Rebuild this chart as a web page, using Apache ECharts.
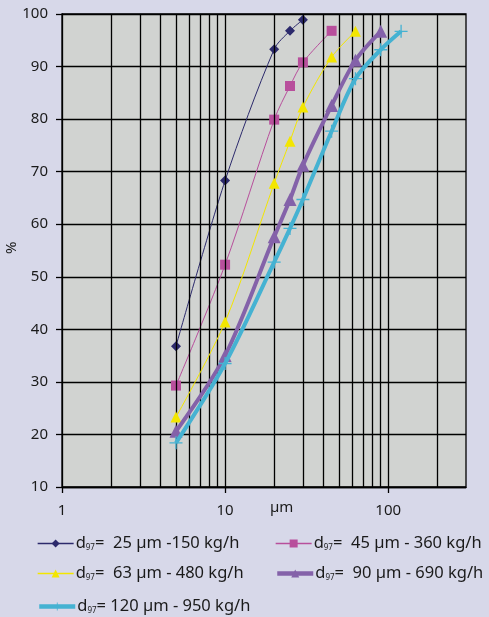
<!DOCTYPE html>
<html>
<head>
<meta charset="utf-8">
<script src="https://cdn.jsdelivr.net/npm/echarts@6/dist/echarts.min.js"></script>
<style>
  html, body { margin: 0; padding: 0; background: #d7d8e9; }
  #chart { width: 489px; height: 617px; }
</style>
</head>
<body>
<div id="chart"></div>
<script>
// particle sizes (µm) shared by all curves
const sizes = [5, 10, 20, 25, 30, 45, 63, 90, 120]
// cumulative % passing per classifier setting
const d25 = [36.8, 68.3, 93.3, 96.8, 98.9]
const d45 = [29.3, 52.3, 79.9, 86.3, 90.8, 96.8]
const d63 = [23.3, 41.4, 67.8, 75.8, 82.3, 91.8, 96.7]
const d90 = [20.6, 35.0, 57.6, 64.7, 71.2, 82.6, 91.2, 96.7]
const d120 = [18.4, 33.5, 52.8, 59.2, 64.7, 77.7, 87.7, 93.2, 96.7]
const legendText = [
  '=  25 µm -150 kg/h',
  '=  45 µm - 360 kg/h',
  '=  63 µm - 480 kg/h',
  '=  90 µm - 690 kg/h',
  '= 120 µm - 950 kg/h'
]
// vertical grid lines of the log paper
const logGrid = [2, 3, 4, 5, 6, 7, 8, 9, 10, 20, 30, 40, 50, 60, 70, 80, 90, 100, 200]

const font = 'Noto Sans'
const plusPath = 'path://M9,0h2v9h9v2h-9v9h-2v-9h-9v-2h9z'
const widths = [1, 1, 1, 4, 4]

function pts(ys) {
  return ys.map((y, i) => [sizes[i], y])
}

function makeSeries(idx, ys, color, symbol, size) {
  return {
    name: legendText[idx],
    type: 'line',
    data: pts(ys),
    smooth: 0.3,
    symbol: symbol,
    symbolSize: size,
    showSymbol: true,
    lineStyle: { color: color, width: widths[idx] },
    itemStyle: { color: color },
    z: 3 + idx
  }
}

const series = [
  makeSeries(0, d25, '#2c2a6c', 'diamond', 10),
  makeSeries(1, d45, '#b84f9c', 'rect', 10),
  makeSeries(2, d63, '#f3e600', 'triangle', 11),
  makeSeries(3, d90, '#8462a9', 'triangle', 13),
  makeSeries(4, d120, '#45b2d2', plusPath, 13)
]

series.push({
  type: 'line',
  data: [],
  silent: true,
  markLine: {
    silent: true,
    symbol: 'none',
    label: { show: false },
    lineStyle: { color: '#000', width: 1.3, type: 'solid' },
    data: logGrid.map(v => ({ xAxis: v }))
  },
  z: 1
})

const rich = {
  d: { fontFamily: font, fontSize: 16.5, color: '#1a1a1a' },
  s: { fontFamily: font, fontSize: 8, color: '#1a1a1a', padding: [8, 0, 0, 0] },
  t: { fontFamily: font, fontSize: 16.5, color: '#1a1a1a' }
}

function legend(idx, left, top) {
  return {
    data: [legendText[idx]],
    left: left,
    top: top,
    itemWidth: 36,
    itemHeight: 10,
    itemGap: 2,
    padding: 0,
    lineStyle: { width: widths[idx] === 1 ? 1.3 : 4.5 },
    formatter: name => '{d|d}{s|97}{t|' + name + '}',
    textStyle: { rich: rich, padding: [0, 0, 0, -3] }
  }
}

const chart = echarts.init(document.getElementById('chart'))
chart.setOption({
  backgroundColor: '#d7d8e9',
  animation: false,
  textStyle: { fontFamily: font },
  grid: {
    left: 62,
    right: 23,
    top: 14,
    bottom: 130,
    outerBoundsMode: 'none',
    containLabel: false,
    show: true,
    backgroundColor: '#d1d3d1',
    borderColor: '#000',
    borderWidth: 1.3
  },
  xAxis: {
    type: 'log',
    logBase: 10,
    min: 1,
    max: 300,
    axisLine: { show: true, lineStyle: { color: '#000', width: 1.3 } },
    axisTick: { show: true, length: 6, lineStyle: { color: '#000', width: 1.3 } },
    axisLabel: { showMaxLabel: false, margin: 16, fontSize: 15, color: '#1a1a1a', fontFamily: font },
    splitLine: { show: false },
    minorTick: { show: false }
  },
  yAxis: {
    type: 'value',
    min: 10,
    max: 100,
    interval: 10,
    axisLine: { show: true, lineStyle: { color: '#000', width: 1.3 } },
    axisTick: { show: true, length: 6, lineStyle: { color: '#000', width: 1.3 } },
    axisLabel: { margin: 14, fontSize: 15, color: '#1a1a1a', fontFamily: font },
    splitLine: { show: true, lineStyle: { color: '#000', width: 1.3 } }
  },
  graphic: [{
    type: 'text',
    left: 270,
    top: 500,
    style: { text: 'µm', fontSize: 15, fill: '#1a1a1a', fontFamily: font }
  }, {
    type: 'text',
    x: 4,
    y: 254,
    rotation: Math.PI / 2,
    style: { text: '%', fontSize: 15, fill: '#1a1a1a', fontFamily: font }
  }],
  legend: [
    legend(0, 37, 535),
    legend(1, 275, 535),
    legend(2, 37, 565),
    legend(3, 275, 565),
    legend(4, 37, 598)
  ],
  series: series
})
</script>
</body>
</html>
